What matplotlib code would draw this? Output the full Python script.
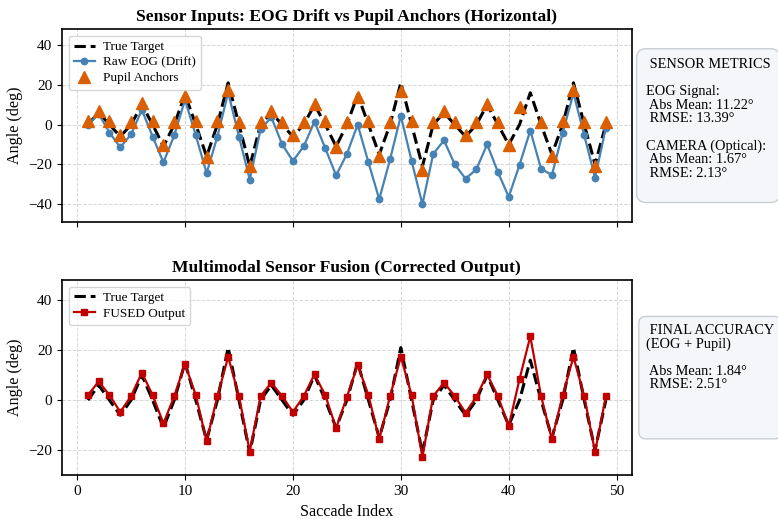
import numpy as np
import matplotlib
matplotlib.use('Agg')
import matplotlib.pyplot as plt

plt.rcParams['font.family'] = ['Liberation Serif', 'DejaVu Serif']

idx = np.arange(1, 50)
true_target = [0, 6, 0, -6, 0, 10, 0, -11, 0, 15, 0, -16, 0, 21, 0, -21, 0, 6, 0, -6,
               0, 10, 0, -11, 0, 15, 0, -15, 0, 21, 0, -21, 0, 6, 0, -6, 0, 10, 0, -10,
               0, 16, 0, -15, 0, 21, 0, -20, 0]
eog_raw = [0, 5.4, -4, -11.4, -4.9, 7.4, -6, -19, -5.4, 12.4,
           -5.4, -24.4, -6, 16.1, -6, -27.6, -2.4, 3.7, -9.9, -18.3,
           -10.9, 1.5, -11.9, -25.5, -14.8, 0, -19, -37.5, -17.5, 4.4,
           -18.3, -40, -14.8, -7.9, -20, -27.2, -22.5, -9.9, -23.9, -36.3,
           -20.2, -3, -22.2, -25.4, -4.2, 15.8, -5.4, -26.6, -1.7]
pupil = [2, 7, 2, -5, 1.5, 11, 2, -10, 1.5, 14.5,
         2, -16.5, 2, 17.5, 1.5, -21, 1.5, 7, 1.5, -5,
         1.5, 10.5, 2, -11.5, 1.5, 14, 2, -15.8, 1.5, 17,
         2, -23, 1.5, 7, 1.5, -5, 1.5, 10.4, 1.5, -10.4,
         8.7, np.nan, 1.5, -15.8, 2, 17.5, 1.5, -21, 1.5]
fused = [2, 7.5, 2, -4.7, 1.6, 11, 2, -9.3, 1.6, 14.4,
         2, -16.4, 1.6, 17.3, 1.6, -20.5, 1.6, 7, 1.6, -4.7,
         1.6, 10.3, 2, -11.2, 1.3, 14.1, 2, -15.7, 1.6, 17.3,
         2, -22.7, 1.6, 7, 1.6, -5, 1.3, 10.3, 1.6, -10.4,
         8.4, 25.5, 1.6, -15.7, 2, 17.3, 1.6, -20.7, 1.6]

sensor_txt = (" SENSOR METRICS\n\nEOG Signal:\n Abs Mean: 11.22°\n RMSE: 13.39°\n\n"
              "CAMERA (Optical):\n Abs Mean: 1.67°\n RMSE: 2.13°\n")
final_txt = " FINAL ACCURACY\n(EOG + Pupil)\n\n Abs Mean: 1.84°\n RMSE: 2.51°\n\n\n"

fig = plt.figure(figsize=(7.78, 5.19), dpi=100)
ax1 = fig.add_axes([0.0797, 0.572, 0.7323, 0.372])
ax2 = fig.add_axes([0.0797, 0.0842, 0.7323, 0.3763], sharex=ax1)

box_kw = dict(facecolor='#f4f6f9', edgecolor='#c9ced5', lw=1)
leg_kw = dict(loc='upper left', fontsize=9.5, handlelength=1.6, handletextpad=0.6,
              labelspacing=0.25, borderpad=0.4)

# top panel
ax1.plot(idx, true_target, 'k--', lw=2.2, label='True Target', zorder=2)
ax1.plot(idx, eog_raw, '-o', color='#4682b4', lw=1.6, ms=4.6, label='Raw EOG (Drift)', zorder=3)
ax1.plot(idx, pupil, '^', color='#d95f02', ms=8, ls='none', label='Pupil Anchors', zorder=4)
ax1.set_ylim(-49, 48)
ax1.set_ylabel('Angle (deg)', fontsize=11.6)
ax1.set_title('Sensor Inputs: EOG Drift vs Pupil Anchors (Horizontal)', fontsize=12.6, fontweight='bold')
ax1.legend(**leg_kw)
ax1.text(1.025, 0.5, sensor_txt, transform=ax1.transAxes, va='center', ha='left',
         fontsize=10.4, linespacing=1.05, bbox=dict(boxstyle='round,pad=0.65', **box_kw))
plt.setp(ax1.get_xticklabels(), visible=False)

# bottom panel
ax2.plot(idx, true_target, 'k--', lw=2.2, label='True Target', zorder=2)
ax2.plot(idx, fused, '-s', color='#c00000', lw=1.6, ms=5, label='FUSED Output', zorder=3)
ax2.set_ylim(-30, 48)
ax2.set_ylabel('Angle (deg)', fontsize=11.6)
ax2.set_xlabel('Saccade Index', fontsize=11.6)
ax2.set_title('Multimodal Sensor Fusion (Corrected Output)', fontsize=12.6, fontweight='bold')
ax2.legend(**leg_kw)
ax2.text(1.025, 0.5, final_txt, transform=ax2.transAxes, va='center', ha='left',
         fontsize=10.4, linespacing=1.05, bbox=dict(boxstyle='round,pad=0.5', **box_kw))

for ax in (ax1, ax2):
    ax.grid(True, ls='--', color='#cccccc', lw=0.7, alpha=0.8)
    ax.tick_params(labelsize=11)
    for s in ax.spines.values():
        s.set_linewidth(1.2)

fig.savefig('out.png', dpi=100)
